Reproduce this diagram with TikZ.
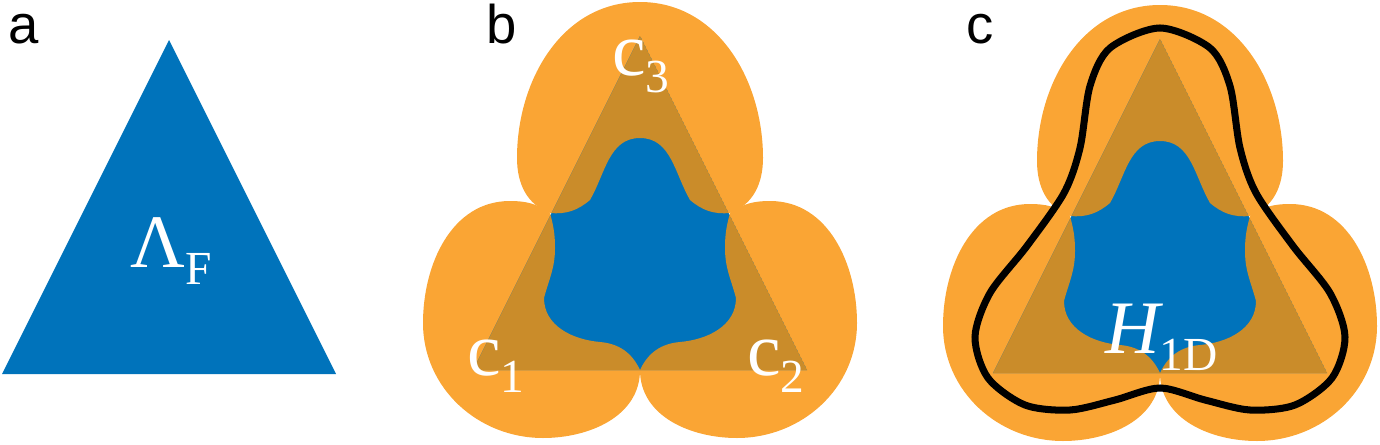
\documentclass[tikz,border=0pt]{standalone}
\usepackage{fontspec}
\newfontfamily\pnlfont{Liberation Sans}
\newfontfamily\lblfont{Liberation Serif}
\usetikzlibrary{calc}

\definecolor{latblue}{RGB}{0,115,187}
\definecolor{lobeorange}{RGB}{250,165,52}
\definecolor{lobebrown}{RGB}{202,140,42}

\newcommand{\subtxt}[1]{\raisebox{-10pt}{\fontsize{27}{27}\selectfont #1}}
% three lobes round the corners, origin at middle of the base
\newcommand{\lobes}[1]{
  \fill[#1] (-90,157) to[out=160,in=-90] (-123,212) to[out=90,in=180] (0,368)
    to[out=0,in=90] (123,212) to[out=-90,in=20] (90,157)
    to[out=185,in=-40] (50,170) to[out=120,in=0] (0,232)
    to[out=180,in=60] (-50,170) to[out=-140,in=-5] (-90,157) -- cycle;
  \foreach \s in {1,-1}
    \fill[#1,xscale=\s] (-90,157) to[out=145,in=0] (-130,169)
      to[out=180,in=90] (-217,47) to[out=-90,in=180] (-97,-68)
      to[out=0,in=-90] (0,0)
      to[out=115,in=-5] (-40,28) to[out=175,in=-90] (-96,72)
      to[out=75,in=-90] (-85,122) to[out=90,in=-75] (-90,157) -- cycle;
}
\newcommand{\panel}{
  \lobes{lobeorange}
  \begin{scope}
    \clip (-167,0) -- (0,334) -- (167,0) -- cycle;
    \fill[latblue] (-167,0) -- (0,334) -- (167,0) -- cycle;
    \lobes{lobebrown}
  \end{scope}
}

\begin{document}
\begin{tikzpicture}[x=0.02cm,y=0.02cm,
    panellbl/.style={inner sep=0pt,anchor=base west,font=\pnlfont\fontsize{31}{31}\selectfont},
    mathlbl/.style={inner sep=0pt,anchor=base west,text=white,font=\lblfont\fontsize{43}{43}\selectfont}]
  \useasboundingbox (0,0) rectangle (1380,444);

  % a: the lattice triangle
  \begin{scope}[shift={(169,70)}]
    \fill[latblue] (-167,0) -- (0,334) -- (167,0) -- cycle;
  \end{scope}
  \node[mathlbl] (LF) at (130,177) {Λ\subtxt{F}};

  % b: corner lobes
  \begin{scope}[shift={(640,74)}]
    \panel
  \end{scope}
  \node[mathlbl] (c3) at (612,369) {c\subtxt{3}};
  \node[mathlbl] (c1) at (467,69) {c\subtxt{1}};
  \node[mathlbl] (c2) at (747,69) {c\subtxt{2}};

  % c: lobes with the 1D loop
  \begin{scope}[shift={(1160,71)}]
    \panel
    \draw[line width=4pt] plot[smooth cycle] coordinates {(0,345) (-50,325)
      (-70,287) (-80,225) (-96,180) (-133,127) (-170,80) (-185,36)
      (-172,-5) (-135,-32) (-90,-37) (-45,-27) (0,-15) (45,-27) (90,-37)
      (135,-32) (172,-5) (185,36) (170,80) (133,127) (96,180) (80,225)
      (70,287) (50,325)};
  \end{scope}
  \node[mathlbl] (H) at (1105,91) {\itshape H\upshape\subtxt{1D}};

  \node[panellbl] (la) at (8,401) {a};
  \node[panellbl] (lb) at (486,401) {b};
  \node[panellbl] (lc) at (966,401) {c};
\end{tikzpicture}
\end{document}
